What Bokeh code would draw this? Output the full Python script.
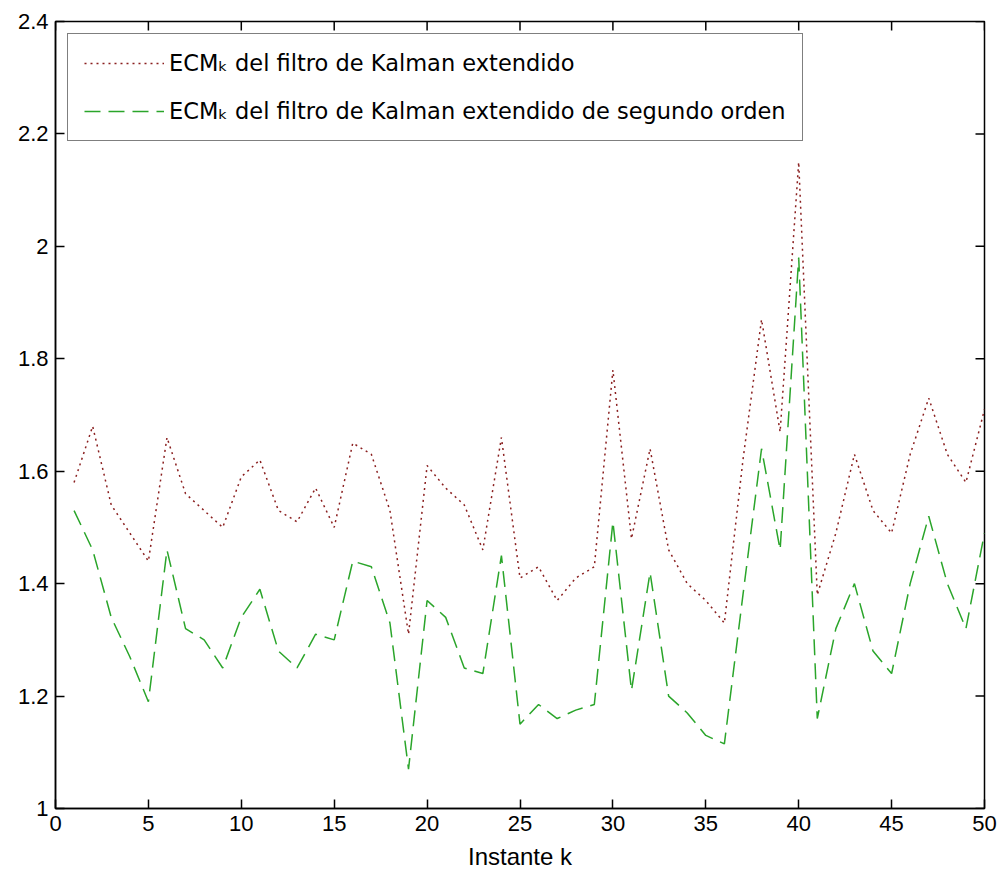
import math
from bokeh.plotting import figure
from bokeh.models import Range1d, FixedTicker, LinearAxis, Legend, LegendItem
from bokeh.embed import file_html
from bokeh.resources import INLINE

k = list(range(1, 51))
ecm_ekf = [1.58, 1.68, 1.54, 1.49, 1.44, 1.66, 1.56, 1.53, 1.50, 1.59,
           1.62, 1.53, 1.51, 1.57, 1.50, 1.65, 1.63, 1.53, 1.31, 1.61,
           1.57, 1.54, 1.46, 1.66, 1.41, 1.43, 1.37, 1.41, 1.43, 1.78,
           1.48, 1.64, 1.46, 1.40, 1.37, 1.33, 1.62, 1.87, 1.67, 2.15,
           1.38, 1.49, 1.63, 1.53, 1.49, 1.63, 1.73, 1.63, 1.58, 1.71]
ecm_ekf2 = [1.53, 1.46, 1.34, 1.27, 1.19, 1.46, 1.32, 1.30, 1.25, 1.34,
            1.39, 1.28, 1.25, 1.31, 1.30, 1.44, 1.43, 1.33, 1.07, 1.37,
            1.34, 1.25, 1.24, 1.45, 1.15, 1.185, 1.16, 1.175, 1.185, 1.51,
            1.21, 1.42, 1.20, 1.17, 1.13, 1.115, 1.38, 1.64, 1.46, 1.98,
            1.16, 1.32, 1.40, 1.28, 1.24, 1.40, 1.52, 1.40, 1.32, 1.49]
x_ticks = [0, 5, 10, 15, 20, 25, 30, 35, 40, 45, 50]
y_ticks = [1.0, 1.2, 1.4, 1.6, 1.8, 2.0, 2.2, 2.4]
y_tick_labels = ["1", "1.2", "1.4", "1.6", "1.8", "2", "2.2", "2.4"]
x_label = "Instante k"
labels = ["ECM\u2096 del filtro de Kalman extendido",
          "ECM\u2096 del filtro de Kalman extendido de segundo orden"]

FONT = "Liberation Sans"
X0, X1 = 0, 50
Y0, Y1 = 1.0, 2.4

p = figure(width=1000, height=879, output_backend="svg", toolbar_location=None,
           x_range=Range1d(X0, X1), y_range=Range1d(Y0, Y1),
           min_border_left=55, min_border_right=16, min_border_top=21,
           min_border_bottom=71, x_axis_location=None, y_axis_location=None)
p.xgrid.visible = False
p.ygrid.visible = False
p.outline_line_color = "black"
p.outline_line_width = 1.5
p.background_fill_color = "white"
p.border_fill_color = "white"


def make_axis(ticks, overrides=None):
    ax = LinearAxis(ticker=FixedTicker(ticks=ticks))
    ax.major_tick_in = 9
    ax.major_tick_out = 0
    ax.minor_tick_line_color = None
    ax.axis_line_color = "black"
    ax.axis_line_width = 1.5
    ax.major_tick_line_color = "black"
    ax.major_tick_line_width = 1.5
    ax.major_label_text_font = FONT
    ax.major_label_text_font_size = "22px"
    ax.major_label_text_color = "black"
    if overrides:
        ax.major_label_overrides = overrides
    return ax


xb = make_axis(x_ticks)
xb.major_label_standoff = 7
xb.axis_label = x_label
xb.axis_label_text_font = FONT
xb.axis_label_text_font_size = "24px"
xb.axis_label_text_font_style = "normal"
xb.axis_label_text_color = "black"
xb.axis_label_standoff = 9
p.add_layout(xb, "below")

yl = make_axis(y_ticks, {v: s for v, s in zip(y_ticks, y_tick_labels)})
yl.major_label_standoff = 7
p.add_layout(yl, "left")

# inward ticks on the top and right edges of the box
p.ray(x=x_ticks, y=[Y1] * len(x_ticks), length=9, length_units="screen",
      angle=-math.pi / 2, line_color="black", line_width=1.5)
p.ray(x=[X1] * len(y_ticks), y=y_ticks, length=9, length_units="screen",
      angle=math.pi, line_color="black", line_width=1.5)

r1 = p.line(k, ecm_ekf, line_color="#8a1f1f", line_width=1.5, line_dash="2 4")
r2 = p.line(k, ecm_ekf2, line_color="#2aa52a", line_width=1.5, line_dash="16 8")

legend = Legend(items=[LegendItem(label=labels[0], renderers=[r1]),
                       LegendItem(label=labels[1], renderers=[r2])],
                location="top_left")
legend.margin = 12
legend.padding = 16
legend.spacing = 22
legend.label_height = 24
legend.glyph_height = 24
legend.glyph_width = 80
legend.label_standoff = 5
legend.label_text_font = "DejaVu Sans"
legend.label_text_font_size = "22.5px"
legend.label_text_color = "black"
legend.border_line_color = "black"
legend.border_line_width = 1.5
legend.background_fill_alpha = 1.0
p.add_layout(legend, "center")

open("out.html", "w").write(file_html(p, INLINE))
